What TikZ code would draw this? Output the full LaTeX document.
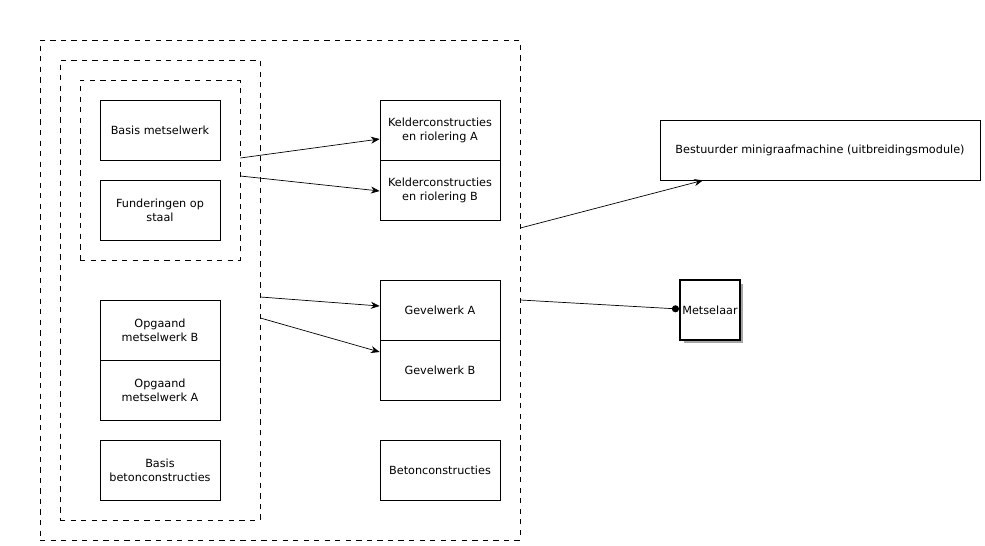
\documentclass[tikz,border=0pt]{standalone}
\usepackage{fontspec}
\setmainfont{DejaVu Sans}
\usepackage{tikz}
\usetikzlibrary{
  arrows.meta,
  positioning,
  shadows,
}

\begin{document}
\begin{tikzpicture}[
  x=0.02cm, y=-0.02cm,
  font=\fontsize{6.4}{8}\selectfont,
  task/.style={draw, thin, align=center, minimum width=2.4cm, minimum height=1.2cm, inner sep=1pt},
  group/.style={draw, thin, dashed, inner sep=0pt},
  link/.style={-{Stealth[length=5pt,width=4pt]}, thin},
]
  % Scale: 1px = 0.02cm, y axis runs downward like the screen
  \useasboundingbox (0,0) rectangle (985,545);

  % Dashed groups
  \node[group, minimum width=9.6cm, minimum height=10cm] (outer) at (280,290) {};
  \node[group, minimum width=4cm, minimum height=9.2cm] (middle) at (160,290) {};
  \node[group, minimum width=3.2cm, minimum height=3.6cm] (inner) at (160,170) {};

  % Left column
  \node[task] (basis)  at (160,130) {Basis metselwerk};
  \node[task] (fund)   at (160,210) {Funderingen op\\staal};
  \node[task] (opgB)   at (160,330) {Opgaand\\metselwerk B};
  \node[task] (opgA)   at (160,390) {Opgaand\\metselwerk A};
  \node[task] (bbeton) at (160,470) {Basis\\betonconstructies};

  % Right column
  \node[task] (keldA) at (440,130) {Kelderconstructies\\en riolering A};
  \node[task] (keldB) at (440,190) {Kelderconstructies\\en riolering B};
  \node[task] (gevA)  at (440,310) {Gevelwerk A};
  \node[task] (gevB)  at (440,370) {Gevelwerk B};
  \node[task] (beton) at (440,470) {Betonconstructies};

  % Roles
  \node[task, minimum width=6.4cm] (bestuurder) at (820,150)
    {Bestuurder minigraafmachine (uitbreidingsmodule)};
  \node[draw, very thick, minimum size=1.2cm, inner sep=0pt, fill=white,
    drop shadow={shadow xshift=0.07cm, shadow yshift=-0.07cm, fill=gray!70, opacity=1}]
    (metselaar) at (710,310) {Metselaar};

  % Connectors
  \draw[link] ([yshift=0.24cm]inner.east) -- ([yshift=-0.18cm]keldA.west);
  \draw[link] ([yshift=-0.12cm]inner.east) -- ([yshift=-0.02cm]keldB.west);
  \draw[link] ([yshift=-0.14cm]middle.east) -- ([yshift=0.08cm]gevA.west);
  \draw[link] ([yshift=-0.56cm]middle.east) -- ([yshift=0.36cm]gevB.west);
  \draw[link] ([yshift=1.24cm]outer.east) -- ([xshift=-2.34cm]bestuurder.south);
  \draw[-{Circle[length=4pt]}, thin] ([yshift=-0.2cm]outer.east) -- ([yshift=0.02cm]metselaar.west);

\end{tikzpicture}
\end{document}
